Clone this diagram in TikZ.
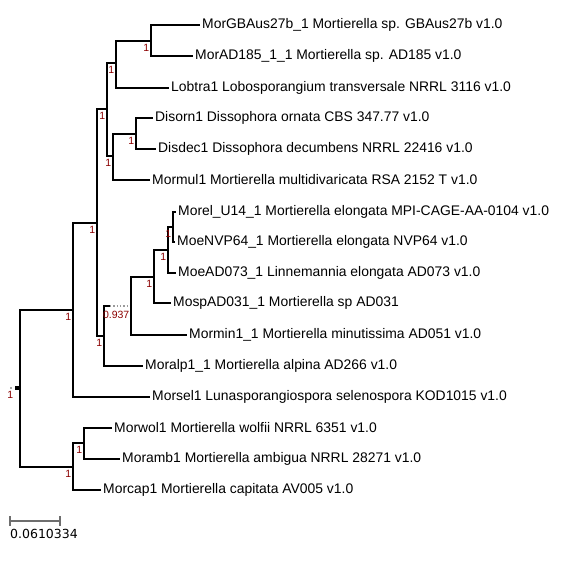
\documentclass[tikz,border=0pt]{standalone}
\usepackage{fontspec}
\setmainfont{Liberation Sans}
\newfontfamily\barlabelfont{DejaVu Sans}
\usepackage{tikz}
\usetikzlibrary{positioning, calc}

\definecolor{supred}{HTML}{8B0000}
\definecolor{bargray}{HTML}{6E6E6E}

\begin{document}
\begin{tikzpicture}[
    x=1pt, y=-1pt,
    % Tree branches (elbow style)
    branch/.style={
        draw=black,
        line width=1.5pt
    },
    % Leaf labels sitting right after the branch tip
    leaf/.style={
        anchor=west,
        font=\fontsize{13.9}{15}\selectfont,
        inner xsep=2pt,
        inner ysep=0pt
    },
    % Support values under each split
    support/.style={
        anchor=north east,
        font=\fontsize{10.5}{11}\selectfont,
        text=supred,
        inner sep=0pt,
        xshift=-1.5pt,
        yshift=-3pt
    },
    % Scale bar
    scalebar/.style={
        draw=bargray,
        line width=1.3pt
    }
]
\useasboundingbox (0,0) rectangle (566,566);

% --- Internal splits ---
\coordinate (root) at (20,388);
\coordinate (A) at (73,310);
\coordinate (B) at (97,223);
\coordinate (C) at (107,109);
\coordinate (E) at (116,63);
\coordinate (F) at (151,41);
\coordinate (G) at (113,156);
\coordinate (H) at (136,134);
\coordinate (D) at (104,336);
\coordinate (I) at (131,306);
\coordinate (J) at (154,277);
\coordinate (K) at (168,250);
\coordinate (L) at (173,227);
\coordinate (M) at (73,467);
\coordinate (N) at (84,443);
\coordinate (Dbreak) at (110,306);

% --- Leaves ---
\node[leaf] (gbaus)  at (200,25)  {MorGBAus27b\_1 Mortierella sp. GBAus27b v1.0};
\node[leaf] (ad185)  at (193,56)  {MorAD185\_1\_1 Mortierella sp. AD185 v1.0};
\node[leaf] (lobtra) at (169,88)  {Lobtra1 Lobosporangium transversale NRRL 3116 v1.0};
\node[leaf] (disorn) at (153,118) {Disorn1 Dissophora ornata CBS 347.77 v1.0};
\node[leaf] (disdec) at (156,149) {Disdec1 Dissophora decumbens NRRL 22416 v1.0};
\node[leaf] (mormul) at (150,180) {Mormul1 Mortierella multidivaricata RSA 2152 T v1.0};
\node[leaf] (morel)  at (176,212) {Morel\_U14\_1 Mortierella elongata MPI-CAGE-AA-0104 v1.0};
\node[leaf] (moenvp) at (175,242) {MoeNVP64\_1 Mortierella elongata NVP64 v1.0};
\node[leaf] (moead)  at (176,273) {MoeAD073\_1 Linnemannia elongata AD073 v1.0};
\node[leaf] (mospad) at (171,303) {MospAD031\_1 Mortierella sp AD031};
\node[leaf] (mormin) at (187,335) {Mormin1\_1 Mortierella minutissima AD051 v1.0};
\node[leaf] (moralp) at (143,366) {Moralp1\_1 Mortierella alpina AD266 v1.0};
\node[leaf] (morsel) at (150,397) {Morsel1 Lunasporangiospora selenospora KOD1015 v1.0};
\node[leaf] (morwol) at (112,428) {Morwol1 Mortierella wolfii NRRL 6351 v1.0};
\node[leaf] (moramb) at (120,459) {Moramb1 Mortierella ambigua NRRL 28271 v1.0};
\node[leaf] (morcap) at (101,490) {Morcap1 Mortierella capitata AV005 v1.0};

% --- Branches ---
\draw[branch] (root) |- (A);
\draw[branch] (root) |- (M);
\draw[branch] (A) |- (B);
\draw[branch] (A) |- (morsel.west);
\draw[branch] (B) |- (C);
\draw[branch] (B) |- (D);
\draw[branch] (C) |- (E);
\draw[branch] (C) |- (G);
\draw[branch] (E) |- (F);
\draw[branch] (E) |- (lobtra.west);
\draw[branch] (F) |- (gbaus.west);
\draw[branch] (F) |- (ad185.west);
\draw[branch] (G) |- (H);
\draw[branch] (G) |- (mormul.west);
\draw[branch] (H) |- (disorn.west);
\draw[branch] (H) |- (disdec.west);
\draw[branch] (D) |- (Dbreak);
\draw[bargray!70, line width=1.3pt, dotted] (Dbreak) -- (I);
\draw[branch] (D) |- (moralp.west);
\draw[branch] (I) |- (J);
\draw[branch] (I) |- (mormin.west);
\draw[branch] (J) |- (K);
\draw[branch] (J) |- (mospad.west);
\draw[branch] (K) |- (L);
\draw[branch] (K) |- (moead.west);
\draw[branch] (L) |- (morel.west);
\draw[branch] (L) |- (moenvp.west);
\draw[branch] (M) |- (N);
\draw[branch] (M) |- (morcap.west);
\draw[branch] (N) |- (morwol.west);
\draw[branch] (N) |- (moramb.west);

% root marker
\fill[black] ($(root)+(-5,-2)$) rectangle ($(root)+(-1,2)$);
\fill[bargray!60] ($(root)+(-10,-1)$) rectangle ($(root)+(-8,1)$);

% --- Support values ---
\node[support] (sroot) at ($(root)+(-5,0)$) {1};
\node[support] (sA) at (A) {1};
\node[support] (sB) at (B) {1};
\node[support] (sC) at (C) {1};
\node[support] (sE) at (E) {1};
\node[support] (sF) at (F) {1};
\node[support] (sG) at (G) {1};
\node[support] (sH) at (H) {1};
\node[support] (sD) at (D) {1};
\node[support, xshift=0pt, yshift=-2pt] (sI) at (I) {0.937};
\node[support] (sJ) at (J) {1};
\node[support] (sK) at (K) {1};
\node[support] (sL) at (L) {1};
\node[support] (sM) at (M) {1};
\node[support] (sN) at (N) {1};

% --- Scale bar ---
\coordinate (barL) at (10,521);
\coordinate (barR) at (60,521);
\draw[scalebar] (barL) -- (barR);
\draw[scalebar] ($(barL)+(0,-5)$) -- ($(barL)+(0,5)$);
\draw[scalebar] ($(barR)+(0,-5)$) -- ($(barR)+(0,5)$);
\node[anchor=north west, inner sep=0pt, font=\barlabelfont\fontsize{12.5}{14}\selectfont] (barval) at (10,529) {0.0610334};

\end{tikzpicture}
\end{document}
